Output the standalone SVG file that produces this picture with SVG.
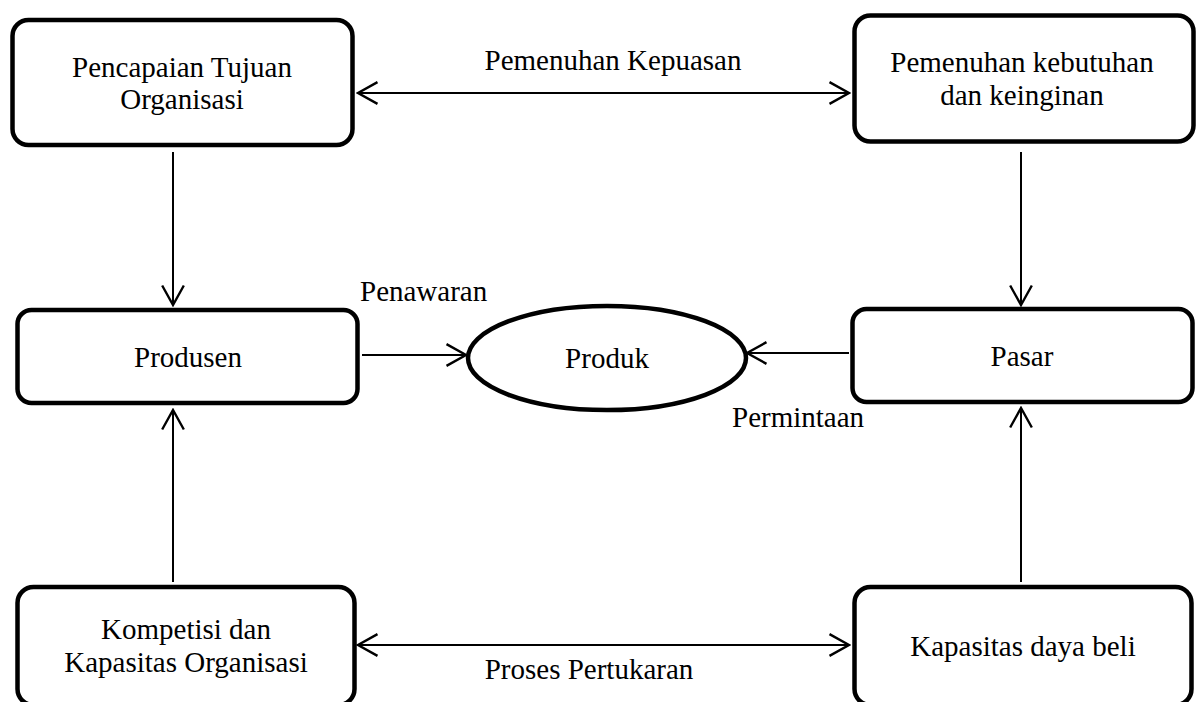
<svg xmlns="http://www.w3.org/2000/svg" width="1196" height="702" viewBox="0 0 1196 702">
  <style>
    .box { fill: #ffffff; stroke: #000000; stroke-width: 4.5; }
    .lbl { font-family: "Liberation Serif", "Times New Roman", serif; font-size: 29px; fill: #000000; text-anchor: middle; }
    .edge-lbl { font-family: "Liberation Serif", "Times New Roman", serif; font-size: 29px; fill: #000000; }
    .conn { stroke: #000000; stroke-width: 2; fill: none; }
  </style>
  <defs>
    <marker id="arrow" markerUnits="userSpaceOnUse" markerWidth="24" markerHeight="26" viewBox="-20 -12 22 24" refX="0" refY="0" orient="auto-start-reverse">
      <path d="M-18,-10 L0,0 L-18,10" fill="none" stroke="#000000" stroke-width="2.2"/>
    </marker>
  </defs>
  <rect width="1196" height="702" fill="#ffffff"/>

  <g id="connectors">
    <line class="conn" x1="358" y1="93" x2="849" y2="93" marker-start="url(#arrow)" marker-end="url(#arrow)"/>
    <line class="conn" x1="358" y1="645" x2="849" y2="645" marker-start="url(#arrow)" marker-end="url(#arrow)"/>
    <line class="conn" x1="173" y1="152" x2="173" y2="305" marker-end="url(#arrow)"/>
    <line class="conn" x1="1021" y1="152" x2="1021" y2="305" marker-end="url(#arrow)"/>
    <line class="conn" x1="173" y1="582" x2="173" y2="410" marker-end="url(#arrow)"/>
    <line class="conn" x1="1021" y1="582" x2="1021" y2="408" marker-end="url(#arrow)"/>
    <line class="conn" x1="362" y1="355" x2="466" y2="355" marker-end="url(#arrow)"/>
    <line class="conn" x1="849" y1="353" x2="747" y2="353" marker-end="url(#arrow)"/>
    <text class="lbl" x="613" y="70">Pemenuhan Kepuasan</text>
    <text class="lbl" x="589" y="679">Proses Pertukaran</text>
    <text class="edge-lbl" x="360" y="301">Penawaran</text>
    <text class="edge-lbl" x="732" y="427">Permintaan</text>
  </g>

  <g id="node-tujuan">
    <rect class="box" x="12.5" y="20" width="340" height="125" rx="16"/>
    <text class="lbl" x="182" y="77">Pencapaian Tujuan</text>
    <text class="lbl" x="182" y="109">Organisasi</text>
  </g>

  <g id="node-kebutuhan">
    <rect class="box" x="854.5" y="15.5" width="339" height="126" rx="16"/>
    <text class="lbl" x="1022" y="72">Pemenuhan kebutuhan</text>
    <text class="lbl" x="1022" y="105">dan keinginan</text>
  </g>

  <g id="node-produsen">
    <rect class="box" x="17.5" y="310" width="340" height="93" rx="14"/>
    <text class="lbl" x="188" y="367">Produsen</text>
  </g>

  <g id="node-produk">
    <ellipse class="box" cx="607" cy="358" rx="139" ry="52"/>
    <text class="lbl" x="607" y="368">Produk</text>
  </g>

  <g id="node-pasar">
    <rect class="box" x="852.5" y="309" width="340" height="93" rx="14"/>
    <text class="lbl" x="1022" y="366">Pasar</text>
  </g>

  <g id="node-kompetisi">
    <rect class="box" x="17.5" y="587" width="337" height="118" rx="16"/>
    <text class="lbl" x="186" y="639">Kompetisi dan</text>
    <text class="lbl" x="186" y="672">Kapasitas Organisasi</text>
  </g>

  <g id="node-daya-beli">
    <rect class="box" x="854.5" y="587" width="337" height="118" rx="16"/>
    <text class="lbl" x="1023" y="656">Kapasitas daya beli</text>
  </g>
</svg>
